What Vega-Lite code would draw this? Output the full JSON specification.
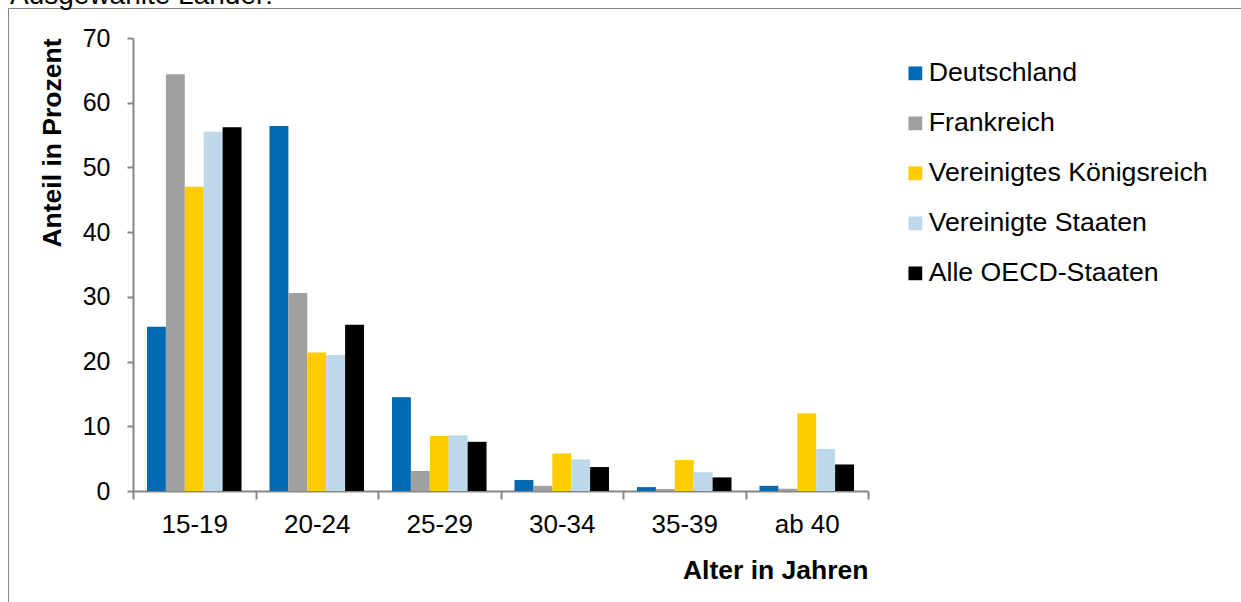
{
  "$schema": "https://vega.github.io/schema/vega-lite/v6.json",
  "width": 1233,
  "height": 594,
  "autosize": "none",
  "padding": {"left": 8, "top": 8, "right": 0, "bottom": 0},
  "title": {"text": "Ausgewählte Länder:", "anchor": "start", "frame": "group", "fontSize": 28, "fontWeight": "normal", "font": "Liberation Sans", "color": "#000000", "offset": -24, "baseline": "alphabetic", "dx": 2},
  "config": {
    "view": {"stroke": "#868686", "strokeWidth": 1},
    "font": "Liberation Sans"
  },
  "data": {"values": [
    {"age": "15-19", "country": "Deutschland", "value": 25.4},
    {"age": "15-19", "country": "Frankreich", "value": 64.4},
    {"age": "15-19", "country": "Vereinigtes Königsreich", "value": 47.0},
    {"age": "15-19", "country": "Vereinigte Staaten", "value": 55.5},
    {"age": "15-19", "country": "Alle OECD-Staaten", "value": 56.2},
    {"age": "20-24", "country": "Deutschland", "value": 56.4},
    {"age": "20-24", "country": "Frankreich", "value": 30.6},
    {"age": "20-24", "country": "Vereinigtes Königsreich", "value": 21.4},
    {"age": "20-24", "country": "Vereinigte Staaten", "value": 21.0},
    {"age": "20-24", "country": "Alle OECD-Staaten", "value": 25.7},
    {"age": "25-29", "country": "Deutschland", "value": 14.5},
    {"age": "25-29", "country": "Frankreich", "value": 3.1},
    {"age": "25-29", "country": "Vereinigtes Königsreich", "value": 8.5},
    {"age": "25-29", "country": "Vereinigte Staaten", "value": 8.6},
    {"age": "25-29", "country": "Alle OECD-Staaten", "value": 7.6},
    {"age": "30-34", "country": "Deutschland", "value": 1.7},
    {"age": "30-34", "country": "Frankreich", "value": 0.8},
    {"age": "30-34", "country": "Vereinigtes Königsreich", "value": 5.8},
    {"age": "30-34", "country": "Vereinigte Staaten", "value": 4.9},
    {"age": "30-34", "country": "Alle OECD-Staaten", "value": 3.7},
    {"age": "35-39", "country": "Deutschland", "value": 0.6},
    {"age": "35-39", "country": "Frankreich", "value": 0.3},
    {"age": "35-39", "country": "Vereinigtes Königsreich", "value": 4.8},
    {"age": "35-39", "country": "Vereinigte Staaten", "value": 2.9},
    {"age": "35-39", "country": "Alle OECD-Staaten", "value": 2.1},
    {"age": "ab 40", "country": "Deutschland", "value": 0.8},
    {"age": "ab 40", "country": "Frankreich", "value": 0.35},
    {"age": "ab 40", "country": "Vereinigtes Königsreich", "value": 12.0},
    {"age": "ab 40", "country": "Vereinigte Staaten", "value": 6.5},
    {"age": "ab 40", "country": "Alle OECD-Staaten", "value": 4.1}
  ]},
  "mark": {"type": "bar"},
  "encoding": {
    "x": {
      "field": "age", "type": "nominal",
      "sort": ["15-19", "20-24", "25-29", "30-34", "35-39", "ab 40"],
      "scale": {"range": [125, 860], "paddingInner": 0, "paddingOuter": 0},
      "axis": {
        "title": "Alter in Jahren", "titleAnchor": "end", "titleFontSize": 26.5, "titleFontWeight": "bold", "titleColor": "#000000", "titlePadding": 20,
        "labelAngle": 0, "labelFontSize": 26, "labelColor": "#000000", "labelPadding": 12,
        "tickBand": "extent", "tickSize": 8, "tickColor": "#868686", "tickWidth": 2,
        "domainColor": "#868686", "domainWidth": 2, "offset": -111, "grid": false
      }
    },
    "xOffset": {
      "field": "country", "type": "nominal",
      "sort": ["Deutschland", "Frankreich", "Vereinigtes Königsreich", "Vereinigte Staaten", "Alle OECD-Staaten"],
      "scale": {"paddingInner": 0, "paddingOuter": 0.74}
    },
    "y": {
      "field": "value", "type": "quantitative",
      "scale": {"domain": [0, 70], "range": [483, 30], "nice": false},
      "axis": {
        "title": "Anteil in Prozent", "titleAnchor": "end", "titleFontSize": 26.5, "titleFontWeight": "bold", "titleColor": "#000000", "titlePadding": 16,
        "values": [0, 10, 20, 30, 40, 50, 60, 70],
        "labelFontSize": 25, "labelColor": "#000000", "labelPadding": 17,
        "tickSize": 6, "tickColor": "#868686", "tickWidth": 2,
        "domainColor": "#868686", "domainWidth": 2, "offset": -125, "grid": false
      }
    },
    "color": {
      "field": "country", "type": "nominal",
      "scale": {
        "domain": ["Deutschland", "Frankreich", "Vereinigtes Königsreich", "Vereinigte Staaten", "Alle OECD-Staaten"],
        "range": ["#0069b4", "#a0a0a0", "#ffcc00", "#bdd8eb", "#000000"]
      },
      "legend": {
        "title": null, "orient": "none", "legendX": 894, "legendY": 52,
        "symbolType": "square", "symbolSize": 190, "symbolStrokeWidth": 0, "symbolOpacity": 1,
        "labelFontSize": 26.7, "labelColor": "#000000", "labelOffset": 0, "rowPadding": 22, "labelLimit": 400
      }
    }
  }
}
